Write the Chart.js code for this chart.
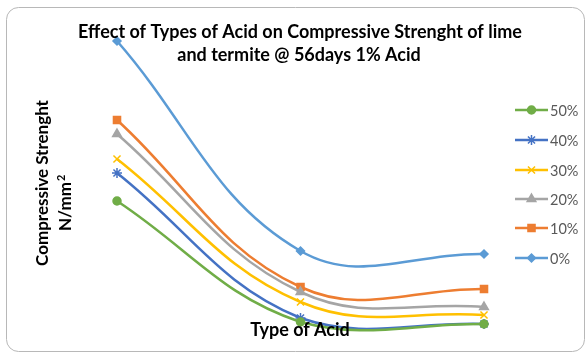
<!DOCTYPE html>
<html>
<head>
<meta charset="utf-8">
<script src="https://cdn.jsdelivr.net/npm/chart.js@4/dist/chart.umd.min.js"></script>
<style>
  html, body { margin: 0; padding: 0; background: #fff; }
  #wrap { width: 587px; height: 358px; }
</style>
</head>
<body>
<div id="wrap"><canvas id="c" width="587" height="358"></canvas></div>
<script>
// Acid types on the category axis (labels are not printed on the chart)
const acidTypes = ['Acid A', 'Acid B', 'Acid C'];

// Compressive strength, N/mm², per acid type and termite content
const series0  = [29.9, 8.9, 8.6];
const series10 = [22.0, 5.3, 5.1];
const series20 = [20.6, 4.8, 3.3];
const series30 = [18.1, 3.8, 2.5];
const series40 = [16.7, 2.2, 1.6];
const series50 = [13.9, 1.8, 1.6];

const seriesNames = ['50%', '40%', '30%', '20%', '10%', '0%'];

const FONT = 'Lato, "Liberation Sans", sans-serif';

const styles = {
  '50%': { color: '#70AD47', point: 'circle',   r: 4 },
  '40%': { color: '#4472C4', point: 'star',     r: 5 },
  '30%': { color: '#FFC000', point: 'crossRot', r: 5 },
  '20%': { color: '#A5A5A5', point: 'triangle', r: 5 },
  '10%': { color: '#ED7D31', point: 'rect',     r: 5 },
  '0%':  { color: '#5B9BD5', point: 'rectRot',  r: 4 }
};

const valuesByName = {
  '50%': series50, '40%': series40, '30%': series30,
  '20%': series20, '10%': series10, '0%': series0
};

const datasets = seriesNames.map(name => {
  const s = styles[name];
  return {
    label: name,
    data: valuesByName[name],
    borderColor: s.color,
    backgroundColor: s.color,
    borderWidth: 2.5,
    tension: 0.4,
    pointStyle: s.point,
    pointRadius: s.r,
    pointBorderWidth: 1.5,
    pointBorderColor: s.color,
    pointBackgroundColor: s.color,
    clip: false
  };
});

// Frame, titles and legend drawn on the chart canvas
const decor = {
  id: 'decor',
  beforeDraw(chart) {
    const ctx = chart.ctx;
    ctx.save();
    ctx.fillStyle = '#fff';
    ctx.fillRect(0, 0, chart.width, chart.height);
    ctx.beginPath();
    ctx.roundRect(6.5, 7.5, 578, 344, 12);
    ctx.strokeStyle = '#b8b8b8';
    ctx.lineWidth = 1;
    ctx.stroke();
    ctx.restore();
  },
  afterDraw(chart) {
    const ctx = chart.ctx;
    ctx.save();
    ctx.fillStyle = '#000';
    ctx.textAlign = 'center';
    ctx.textBaseline = 'middle';
    ctx.font = 'bold 18px ' + FONT;
    ctx.fillText('Effect of Types of Acid on Compressive Strenght of lime', 300, 32);
    ctx.fillText('and termite @ 56days 1% Acid', 299, 55);

    ctx.fillText('Type of Acid', 300, 330);

    // vertical axis title
    ctx.font = 'bold 17px ' + FONT;
    ctx.save();
    ctx.translate(43, 183);
    ctx.rotate(-Math.PI / 2);
    ctx.fillText('Compressive Strenght', 0, 0);
    ctx.restore();
    ctx.save();
    ctx.translate(66, 185);
    ctx.rotate(-Math.PI / 2);
    ctx.textAlign = 'right';
    ctx.fillText('N/mm', 3, 0);
    ctx.font = 'bold 11px ' + FONT;
    ctx.textAlign = 'left';
    ctx.fillText('2', 4, -5);
    ctx.restore();

    // legend
    const rowY = [110, 140, 170, 199, 228, 258];
    seriesNames.forEach((name, i) => {
      const s = styles[name];
      const y = rowY[i];
      ctx.beginPath();
      ctx.moveTo(515, y);
      ctx.lineTo(548, y);
      ctx.strokeStyle = s.color;
      ctx.lineWidth = 2.5;
      ctx.stroke();
      ctx.fillStyle = s.color;
      ctx.strokeStyle = s.color;
      ctx.lineWidth = 1.5;
      Chart.helpers.drawPoint(ctx, { pointStyle: s.point, radius: s.r, rotation: 0, borderWidth: 1.5 }, 531.5, y);
      ctx.fillStyle = '#595959';
      ctx.font = '14.5px ' + FONT;
      ctx.textAlign = 'left';
      ctx.fillText(name, 550, y + 1);
    });
    ctx.restore();
  }
};

new Chart(document.getElementById('c'), {
  type: 'line',
  data: { labels: acidTypes, datasets },
  options: {
    responsive: false,
    animation: false,
    devicePixelRatio: 1,
    layout: { padding: { left: 117, right: 103, top: 30, bottom: 18 } },
    plugins: { legend: { display: false }, title: { display: false }, tooltip: { enabled: false } },
    scales: {
      x: { display: false, offset: false },
      y: { display: false, min: 0, max: 31 }
    }
  },
  plugins: [decor]
});
</script>
</body>
</html>
